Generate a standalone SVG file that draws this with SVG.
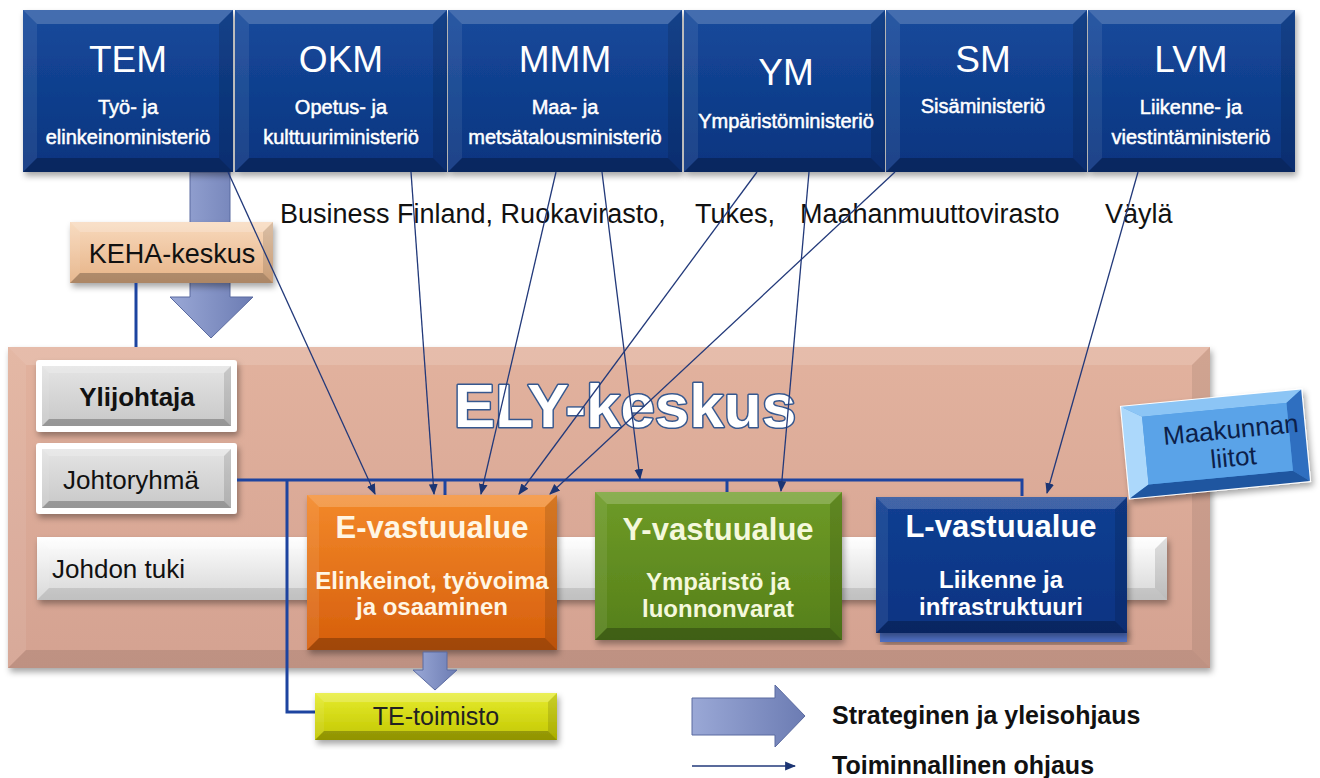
<svg xmlns="http://www.w3.org/2000/svg" width="1320" height="778" viewBox="0 0 1320 778">
<defs>
<style>
text{font-family:"Liberation Sans",Arial,sans-serif}
.bt{fill:#fff;fill-opacity:.2}
.bl{fill:#fff;fill-opacity:.08}
.br{fill:#000;fill-opacity:.12}
.bb{fill:#000;fill-opacity:.25}
.min{fill:url(#gMin)}
.mt{fill:#fff;font-size:37px;text-anchor:middle}
.ms{fill:#fff;font-size:20px;text-anchor:middle;stroke:#fff;stroke-width:.5}
.lbl{font-size:27px;fill:#111}
.org{fill:none;stroke:#1d44a0;stroke-width:3}
.con{stroke:#22397a;stroke-width:1.3;fill:none;marker-end:url(#ah)}
.big{fill:url(#gArr);stroke:#5a6aa0;stroke-width:1}
.vt{font-weight:bold;text-anchor:middle}
</style>
<linearGradient id="gMin" x1="0" y1="0" x2="0" y2="1"><stop offset="0" stop-color="#164a9c"/><stop offset="1" stop-color="#0a347f"/></linearGradient>
<linearGradient id="gEly" x1="0" y1="0" x2="0" y2="1"><stop offset="0" stop-color="#e2b29e"/><stop offset="1" stop-color="#d4a291"/></linearGradient>
<linearGradient id="gKeha" x1="0" y1="0" x2="0" y2="1"><stop offset="0" stop-color="#f8d9bc"/><stop offset="1" stop-color="#e6b387"/></linearGradient>
<linearGradient id="gGrey" x1="0" y1="0" x2="0" y2="1"><stop offset="0" stop-color="#e4e4e4"/><stop offset="1" stop-color="#c8c8c8"/></linearGradient>
<linearGradient id="gBar" x1="0" y1="0" x2="0" y2="1"><stop offset="0" stop-color="#ffffff"/><stop offset="1" stop-color="#d6d6d6"/></linearGradient>
<linearGradient id="gE" x1="0" y1="0" x2="0" y2="1"><stop offset="0" stop-color="#f3892a"/><stop offset="1" stop-color="#d65e0b"/></linearGradient>
<linearGradient id="gY" x1="0" y1="0" x2="0" y2="1"><stop offset="0" stop-color="#6e9b27"/><stop offset="1" stop-color="#557f1a"/></linearGradient>
<linearGradient id="gL" x1="0" y1="0" x2="0" y2="1"><stop offset="0" stop-color="#123f92"/><stop offset="1" stop-color="#0b3382"/></linearGradient>
<linearGradient id="gTE" x1="0" y1="0" x2="0" y2="1"><stop offset="0" stop-color="#e6ec2e"/><stop offset="1" stop-color="#c2c600"/></linearGradient>
<linearGradient id="gArr" x1="0" y1="0" x2="1" y2="0"><stop offset="0" stop-color="#9aa8d6"/><stop offset="1" stop-color="#6c7cb3"/></linearGradient>
<filter id="sh" x="-5%" y="-10%" width="115%" height="130%"><feDropShadow dx="2" dy="4" stdDeviation="3" flood-color="#000" flood-opacity="0.35"/></filter>
<marker id="ah" viewBox="0 0 10 10" refX="9" refY="5" markerWidth="11" markerHeight="11" markerUnits="userSpaceOnUse" orient="auto"><path d="M0,1 L10,5 L0,9 z" fill="#1c3573"/></marker>
</defs>
<rect width="1320" height="778" fill="#fff"/>

<!-- ELY-keskus container -->
<g id="ely">
<rect x="8" y="347" width="1202" height="321" fill="url(#gEly)" filter="url(#sh)"/>
<polygon class="bt" points="8,347 1210,347 1192,365 26,365" style="fill-opacity:.14"/>
<polygon class="bl" points="8,347 26,365 26,650 8,668"/>
<polygon class="br" points="1210,347 1210,668 1192,650 1192,365" style="fill-opacity:.08"/>
<polygon class="bb" points="8,668 26,650 1192,650 1210,668" style="fill-opacity:.1"/>
</g>

<!-- strategic arrow TEM -> KEHA -> ELY -->
<g id="arrow-keha"><polygon class="big" points="190,172 230,172 230,297 253,297 211,338 170,297 190,297"/></g>

<!-- Ministries -->
<g id="tem">
<rect x="23" y="10" width="210" height="162" class="min" filter="url(#sh)"/>
<polygon class="bt" points="23,10 233,10 219,24 37,24"/><polygon class="bl" points="23,10 37,24 37,158 23,172"/><polygon class="br" points="233,10 233,172 219,158 219,24"/><polygon class="bb" points="23,172 37,158 219,158 233,172"/>
<text class="mt" x="128" y="72">TEM</text>
<text class="ms" x="128" y="114">Työ- ja</text><text class="ms" x="128" y="144">elinkeinoministeriö</text>
</g>
<g id="okm">
<rect x="235" y="10" width="212" height="162" class="min" filter="url(#sh)"/>
<polygon class="bt" points="235,10 447,10 433,24 249,24"/><polygon class="bl" points="235,10 249,24 249,158 235,172"/><polygon class="br" points="447,10 447,172 433,158 433,24"/><polygon class="bb" points="235,172 249,158 433,158 447,172"/>
<text class="mt" x="341" y="72">OKM</text>
<text class="ms" x="341" y="114">Opetus- ja</text><text class="ms" x="341" y="144">kulttuuriministeriö</text>
</g>
<g id="mmm">
<rect x="448" y="10" width="234" height="162" class="min" filter="url(#sh)"/>
<polygon class="bt" points="448,10 682,10 668,24 462,24"/><polygon class="bl" points="448,10 462,24 462,158 448,172"/><polygon class="br" points="682,10 682,172 668,158 668,24"/><polygon class="bb" points="448,172 462,158 668,158 682,172"/>
<text class="mt" x="565" y="72">MMM</text>
<text class="ms" x="565" y="114">Maa- ja</text><text class="ms" x="565" y="144">metsätalousministeriö</text>
</g>
<g id="ym">
<rect x="684" y="10" width="201" height="162" class="min" filter="url(#sh)"/>
<polygon class="bt" points="684,10 885,10 871,24 698,24"/><polygon class="bl" points="684,10 698,24 698,158 684,172"/><polygon class="br" points="885,10 885,172 871,158 871,24"/><polygon class="bb" points="684,172 698,158 871,158 885,172"/>
<text class="mt" x="786" y="85">YM</text>
<text class="ms" x="786" y="128">Ympäristöministeriö</text>
</g>
<g id="sm">
<rect x="886" y="10" width="201" height="162" class="min" filter="url(#sh)"/>
<polygon class="bt" points="886,10 1087,10 1073,24 900,24"/><polygon class="bl" points="886,10 900,24 900,158 886,172"/><polygon class="br" points="1087,10 1087,172 1073,158 1073,24"/><polygon class="bb" points="886,172 900,158 1073,158 1087,172"/>
<text class="mt" x="983" y="72">SM</text>
<text class="ms" x="983" y="113">Sisäministeriö</text>
</g>
<g id="lvm">
<rect x="1088" y="10" width="207" height="162" class="min" filter="url(#sh)"/>
<polygon class="bt" points="1088,10 1295,10 1281,24 1102,24"/><polygon class="bl" points="1088,10 1102,24 1102,158 1088,172"/><polygon class="br" points="1295,10 1295,172 1281,158 1281,24"/><polygon class="bb" points="1088,172 1102,158 1281,158 1295,172"/>
<text class="mt" x="1191" y="72">LVM</text>
<text class="ms" x="1191" y="114">Liikenne- ja</text><text class="ms" x="1191" y="144">viestintäministeriö</text>
</g>

<!-- agencies -->
<g id="agencies">
<text class="lbl" x="280" y="223">Business Finland, Ruokavirasto,</text>
<text class="lbl" x="695" y="223">Tukes,</text>
<text class="lbl" x="800" y="223">Maahanmuuttovirasto</text>
<text class="lbl" x="1105" y="223">Väylä</text>
</g>

<!-- KEHA -->
<g id="keha">
<rect x="70" y="222" width="203" height="61" fill="url(#gKeha)" filter="url(#sh)"/>
<polygon class="bt" points="70,222 273,222 263,232 80,232"/><polygon class="bl" points="70,222 80,232 80,273 70,283"/><polygon class="br" points="273,222 273,283 263,273 263,232"/><polygon class="bb" points="70,283 80,273 263,273 273,283"/>
<text class="lbl" x="172" y="263" text-anchor="middle" fill="#1a1a1a">KEHA-keskus</text>
</g>

<!-- Johdon tuki -->
<g id="johdon-tuki">
<rect x="37" y="537" width="1130" height="63" fill="url(#gBar)" filter="url(#sh)"/>
<polygon class="bt" points="37,537 1167,537 1155,549 49,549"/><polygon class="bl" points="37,537 49,549 49,588 37,600"/><polygon class="br" points="1167,537 1167,600 1155,588 1155,549"/><polygon class="bb" points="37,600 49,588 1155,588 1167,600" style="fill-opacity:.1"/>
<text x="52" y="578" font-size="26" fill="#111">Johdon tuki</text>
</g>

<!-- Ylijohtaja -->
<g id="ylijohtaja">
<rect x="36" y="360" width="201" height="72" rx="3" fill="#fff" filter="url(#sh)"/>
<rect x="42" y="366" width="189" height="60" fill="url(#gGrey)"/>
<polygon class="bt" points="42,366 231,366 224,373 49,373"/><polygon class="bl" points="42,366 49,373 49,419 42,426"/><polygon class="br" points="231,366 231,426 224,419 224,373"/><polygon class="bb" points="42,426 49,419 224,419 231,426"/>
<text x="137" y="406" font-size="26" font-weight="bold" text-anchor="middle" fill="#111">Ylijohtaja</text>
</g>
<!-- Johtoryhmä -->
<g id="johtoryhma">
<rect x="36" y="443" width="201" height="71" rx="3" fill="#fff" filter="url(#sh)"/>
<rect x="42" y="449" width="189" height="59" fill="url(#gGrey)"/>
<polygon class="bt" points="42,449 231,449 224,456 49,456"/><polygon class="bl" points="42,449 49,456 49,501 42,508"/><polygon class="br" points="231,449 231,508 224,501 224,456"/><polygon class="bb" points="42,508 49,501 224,501 231,508"/>
<text x="131" y="489" font-size="26" text-anchor="middle" fill="#111">Johtoryhmä</text>
</g>

<!-- organisational lines -->
<g id="org-lines">
<path class="org" d="M136,283 V347"/>
<path class="org" d="M237,480 H1022 V496"/>
<path class="org" d="M445,480 V495"/>
<path class="org" d="M727,480 V492"/>
<path class="org" d="M287,480 V712 H315"/>
</g>

<!-- E -->
<g id="e-vastuualue">
<rect x="307" y="495" width="250" height="155" fill="url(#gE)" filter="url(#sh)"/>
<polygon class="bt" points="307,495 557,495 545,507 319,507"/><polygon class="bl" points="307,495 319,507 319,638 307,650"/><polygon class="br" points="557,495 557,650 545,638 545,507"/><polygon class="bb" points="307,650 319,638 545,638 557,650"/>
<text class="vt" x="432" y="538" font-size="31" fill="#fff6e4">E-vastuualue</text>
<text class="vt" x="432" y="589" font-size="24" fill="#fff6e4">Elinkeinot, työvoima</text>
<text class="vt" x="432" y="615" font-size="24" fill="#fff6e4">ja osaaminen</text>
</g>
<!-- Y -->
<g id="y-vastuualue">
<rect x="595" y="492" width="247" height="148" fill="url(#gY)" filter="url(#sh)"/>
<polygon class="bt" points="595,492 842,492 830,504 607,504"/><polygon class="bl" points="595,492 607,504 607,628 595,640"/><polygon class="br" points="842,492 842,640 830,628 830,504"/><polygon class="bb" points="595,640 607,628 830,628 842,640"/>
<text class="vt" x="718" y="540" font-size="31" fill="#f4f8dc">Y-vastuualue</text>
<text class="vt" x="718" y="590" font-size="24" fill="#f4f8dc">Ympäristö ja</text>
<text class="vt" x="718" y="617" font-size="24" fill="#f4f8dc">luonnonvarat</text>
</g>
<!-- L -->
<g id="l-vastuualue">
<rect x="880" y="628" width="247" height="14" fill="#4f70c4" filter="url(#sh)"/>
<rect x="876" y="497" width="251" height="136" fill="url(#gL)" filter="url(#sh)"/>
<polygon class="bt" points="876,497 1127,497 1115,509 888,509"/><polygon class="bl" points="876,497 888,509 888,621 876,633"/><polygon class="br" points="1127,497 1127,633 1115,621 1115,509"/><polygon class="bb" points="876,633 888,621 1115,621 1127,633"/>
<text class="vt" x="1001" y="537" font-size="31" fill="#fff">L-vastuualue</text>
<text class="vt" x="1001" y="588" font-size="24" fill="#fff">Liikenne ja</text>
<text class="vt" x="1001" y="615" font-size="24" fill="#fff">infrastruktuuri</text>
</g>

<!-- ELY title -->
<g id="ely-title">
<text x="625" y="427" font-size="62" font-weight="bold" text-anchor="middle" fill="#fff" stroke="#36588f" stroke-width="3" paint-order="stroke" stroke-linejoin="round">ELY-keskus</text>
</g>

<!-- Maakunnan liitot -->
<g id="maakunnan-liitot" transform="rotate(-5.5 1215 444)">
<g filter="url(#sh)">
<rect x="1125" y="398" width="181" height="92" fill="#4b97e0" stroke="#fff" stroke-width="2"/>
</g>
<polygon points="1125,398 1306,398 1290,410 1145,410" fill="#8cc5f5"/>
<polygon points="1125,398 1145,410 1145,478 1125,490" fill="#acd8fb"/>
<polygon points="1306,398 1306,490 1290,478 1290,410" fill="#2f6fc0"/>
<polygon points="1125,490 1145,478 1290,478 1306,490" fill="#1f56a0"/>
<rect x="1145" y="410" width="145" height="68" fill="#5aa3e8"/>
<text x="1232" y="440" font-size="26" text-anchor="middle" fill="#0c1f4a">Maakunnan</text>
<text x="1232" y="468" font-size="26" text-anchor="middle" fill="#0c1f4a">liitot</text>
</g>

<!-- E -> TE arrow -->
<g id="arrow-te"><polygon class="big" points="423,652 447,652 447,670 457,670 435,690 413,670 423,670"/></g>

<!-- TE-toimisto -->
<g id="te-toimisto">
<rect x="315" y="693" width="242" height="47" fill="url(#gTE)" filter="url(#sh)"/>
<polygon class="bt" points="315,693 557,693 548,702 324,702"/><polygon class="bl" points="315,693 324,702 324,731 315,740"/><polygon class="br" points="557,693 557,740 548,731 548,702"/><polygon class="bb" points="315,740 324,731 548,731 557,740"/>
<text x="436" y="725" font-size="25" text-anchor="middle" fill="#222">TE-toimisto</text>
</g>

<!-- functional guidance connectors -->
<g id="connectors">
<line class="con" x1="228" y1="172" x2="375" y2="494"/>
<line class="con" x1="411" y1="172" x2="434" y2="494"/>
<line class="con" x1="556" y1="172" x2="481" y2="494"/>
<line class="con" x1="602" y1="172" x2="640" y2="479"/>
<line class="con" x1="757" y1="172" x2="519" y2="494"/>
<line class="con" x1="809" y1="172" x2="781" y2="491"/>
<line class="con" x1="895" y1="172" x2="550" y2="494"/>
<line class="con" x1="1138" y1="172" x2="1047" y2="493"/>
</g>

<!-- legend -->
<g id="legend">
<polygon class="big" points="692,698 775,698 775,685 805,716 775,747 775,735 692,735"/>
<text x="832" y="724" font-size="25" font-weight="bold" fill="#111">Strateginen ja yleisohjaus</text>
<line class="con" x1="692" y1="766" x2="795" y2="766"/>
<text x="832" y="774" font-size="25" font-weight="bold" fill="#111">Toiminnallinen ohjaus</text>
</g>
</svg>
